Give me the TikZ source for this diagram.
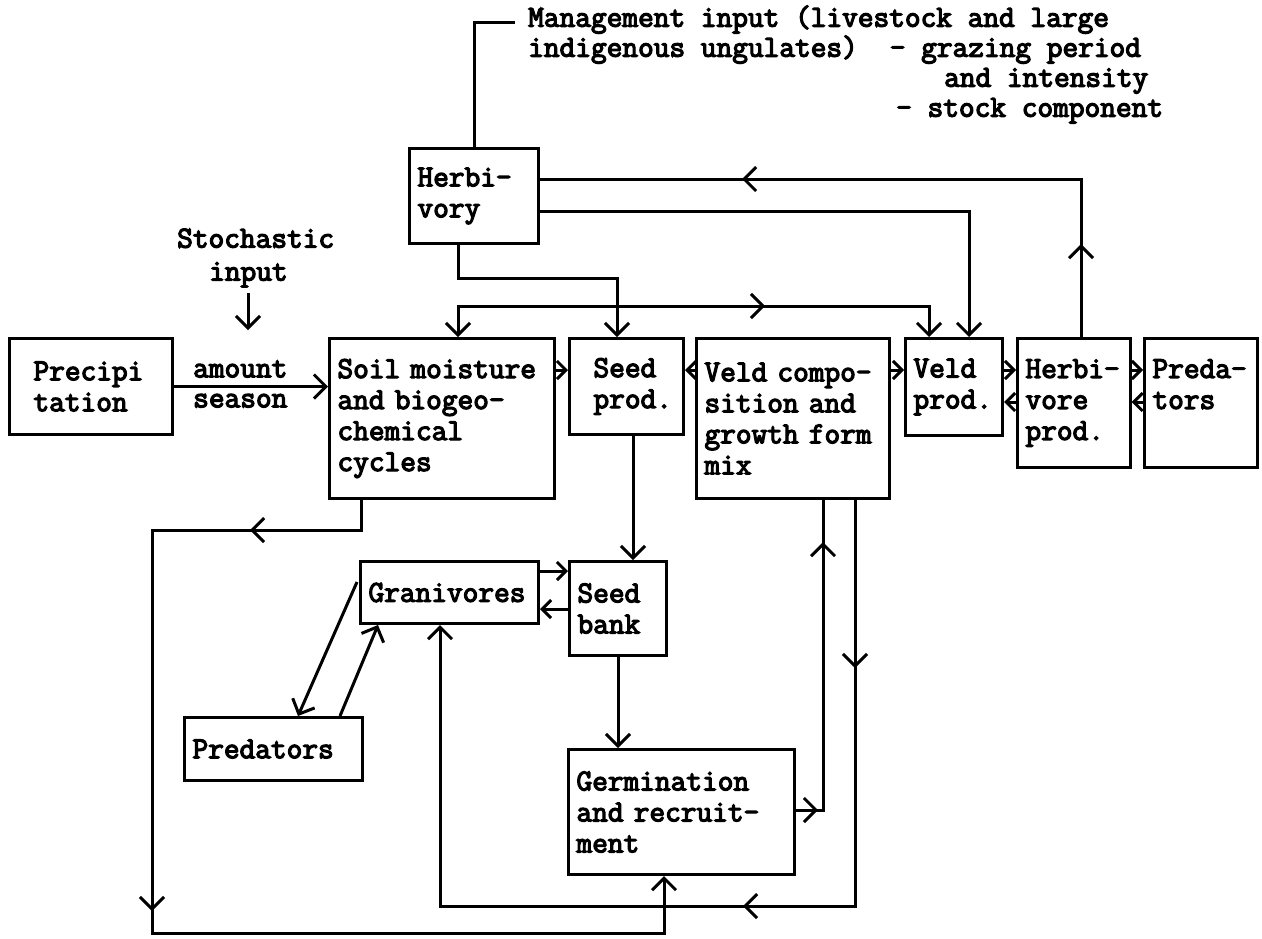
\documentclass[tikz,border=0pt]{standalone}
\usepackage{fontspec}
\newfontfamily\twfont{Latin Modern Mono}[FakeBold=4]
\usetikzlibrary{arrows.meta,calc,decorations.markings}
\newcommand\tf{\twfont\fontsize{30.48pt}{31pt}\selectfont}
\newcommand\tfs[1]{\twfont\fontsize{30.48pt}{#1}\selectfont}
\tikzset{
  ln/.style={line width=3pt},
  arr/.style={ln,->},
  sarr/.style={ln,-{Straight Barb[length=9pt,width=18pt]}},
  box/.style={draw, line width=3pt, inner xsep=8pt, inner ysep=0pt, align=left, font=\tf, anchor=north west},
  mids/.style={postaction={decorate}, decoration={markings, #1}},
  freetext/.style={inner sep=0pt, align=left, anchor=west}
}
\begin{document}
\begin{tikzpicture}[x=1pt,y=-1pt,>={Straight Barb[length=12pt,width=24pt]}]
\fill[white] (0,0) rectangle (1262,938);
\useasboundingbox (0,0) rectangle (1262,938);

% boxes
\node[box, minimum width=163pt, minimum height=96pt, text width=147pt] (precip) at (8,337) {\hspace*{16pt}Precipi\\\hspace*{16pt}tation};
\node[box, minimum width=225pt, minimum height=160pt, text width=209pt] (soil) at (328,337) {\mbox{Soil moisture}\\\mbox{and biogeo-}\\chemical\\cycles};
\node[box, minimum width=114pt, minimum height=96pt, text width=98pt] (seedprod) at (568,337) {\hspace*{16pt}Seed\\\hspace*{16pt}prod.};
\node[box, minimum width=193pt, minimum height=160pt, text width=177pt] (vcomp) at (695,337) {\mbox{Veld compo-}\\\mbox{sition and}\\\mbox{growth form}\\mix};
\node[box, minimum width=97pt, minimum height=97pt, text width=81pt] (vprod) at (904,337) {Veld\\prod.};
\node[box, minimum width=112pt, minimum height=129pt, text width=96.5pt] (hprod) at (1016,337) {Herbi-\\vore\\prod.};
\node[box, minimum width=112pt, minimum height=129pt, text width=96.5pt] (predR) at (1143,337) {Preda-\\tors\\\phantom{prod.}};
\node[box, minimum width=129pt, minimum height=95pt, text width=113pt] (herb) at (408,147) {Herbi-\\vory};
\node[box, minimum width=178pt, minimum height=62pt, text width=162pt] (gran) at (359,560) {Granivores};
\node[box, minimum width=97pt, minimum height=94pt, text width=81pt] (seedbank) at (568,560) {Seed\\bank};
\node[box, minimum width=178pt, minimum height=63pt, text width=162pt] (predL) at (183,716) {Predators};
\node[box, minimum width=226pt, minimum height=125pt, text width=210pt] (germ) at (567,748) {Germination\\\mbox{and recruit-}\\ment};

% free texts
\node[freetext, font=\tfs{30pt}] (mgmt) at (528,64.5) {Management input (livestock and large\\indigenous ungulates)\hspace*{32pt}- grazing period\\\hspace*{416pt}and intensity\\\hspace*{368pt}- stock component};
\node[freetext, font=\tfs{33pt}] (stoch) at (177,258) {Stochastic\\\hspace*{32pt}input};
\node[freetext, font=\tfs{30pt}] (amount) at (193,384) {amount\\season};

% connectors
\coordinate (mstub) at (515,22);
\draw[ln] (herb.north) |- (mstub);

\coordinate (stochtail) at (248,293);
\coordinate (stochtip) at (248,330);
\draw[arr] (stochtail) -- (stochtip);

\draw[arr] (precip.east) -- (precip.east -| soil.west);
\draw[sarr] ($(soil.north east)+(0,33)$) -- ($(seedprod.north west)+(0,33)$);
\draw[sarr] ($(vcomp.north west)+(0,33)$) -- ($(seedprod.north east)+(0,33)$);
\draw[sarr] ($(vcomp.north east)+(0,33)$) -- ($(vprod.north west)+(0,33)$);
\draw[sarr] ($(vprod.north east)+(0,33)$) -- ($(hprod.north west)+(0,33)$);
\draw[sarr] ($(hprod.north west)+(0,65)$) -- ($(vprod.north east)+(0,65)$);
\draw[sarr] ($(hprod.north east)+(0,33)$) -- ($(predR.north west)+(0,33)$);
\draw[sarr] ($(predR.north west)+(0,65)$) -- ($(hprod.north east)+(0,65)$);

\draw[ln, mids={mark=at position 93pt with {\arrow{>}}, mark=at position 497pt with {\arrow{>}}}]
  ($(hprod.north west)+(65,0)$) |- ($(herb.north east)+(0,32)$);
\draw[arr] ($(herb.north east)+(0,64)$) -| ($(vprod.north west)+(65,0)$);
\draw[arr] ($(herb.south west)+(50,0)$) -- ++(0,33) -| ($(seedprod.north west)+(49,0)$);
\draw[ln, <->, mids={mark=at position 338pt with {\arrow{>}}}]
  ($(soil.north west)+(130,0)$) -- ++(0,-31) -| ($(vprod.north west)+(25,0)$);

\draw[arr] ($(seedprod.south west)+(65,0)$) -- ($(seedbank.north west)+(65,0)$);
\draw[sarr] ($(gran.north east)+(0,11)$) -- ($(seedbank.north west)+(0,11)$);
\draw[sarr] ($(seedbank.north west)+(0,49)$) -- ($(gran.north east)+(0,49)$);
\draw[arr] (seedbank.south) -- (seedbank.south |- germ.north);
\draw[arr] ($(gran.north west)+(-2,22)$) -- ($(predL.north west)+(115,0)$);
\draw[arr] ($(predL.north west)+(157,0)$) -- ($(gran.south west)+(19,0)$);

\coordinate (botleft) at (152,933);
\draw[arr, mids={mark=at position 141pt with {\arrow{>}}, mark=at position 620pt with {\arrow{>}}}]
  ($(soil.south west)+(33,0)$) -- ++(0,30) -| (botleft) -| ($(germ.south west)+(97,0)$);
\draw[arr, mids={mark=at position 168pt with {\arrow{>}}, mark=at position 518pt with {\arrow{>}}}]
  ($(vcomp.south west)+(160,0)$) |- ($(gran.south west)+(81,281)$) -- ($(gran.south west)+(81,0)$);
\draw[ln, mids={mark=at position 22pt with {\arrow{>}}, mark=at position 295pt with {\arrow{>}}}]
  ($(germ.north east)+(0,62)$) -| ($(vcomp.south west)+(128,0)$);
\end{tikzpicture}
\end{document}
